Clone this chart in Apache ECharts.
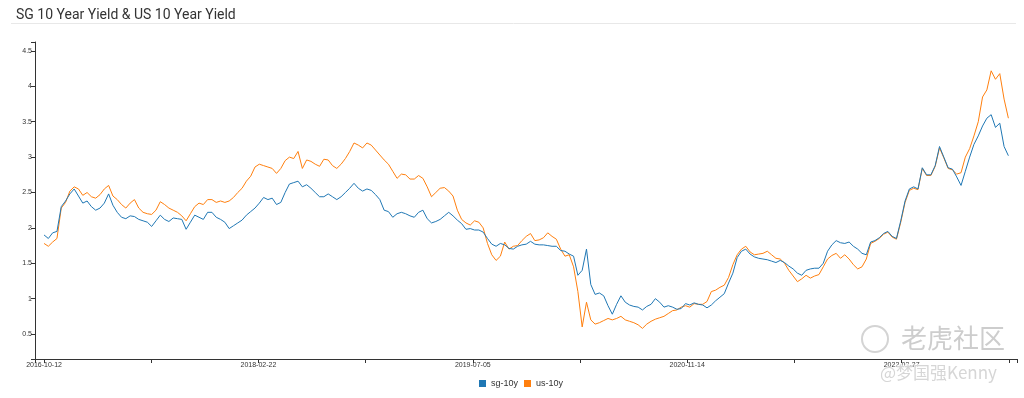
<!DOCTYPE html>
<html>
<head>
<meta charset="utf-8">
<title>SG 10 Year Yield &amp; US 10 Year Yield</title>
<script src="https://cdn.jsdelivr.net/npm/echarts@6/dist/echarts.min.js"></script>
<style>
  html, body { margin: 0; padding: 0; background: #fff; }
  #chart { width: 1024px; height: 398px; }
</style>
</head>
<body>
<div id="chart"></div>
<script>
// one value every STEP_DAYS days, starting at START_DATE
const START_DATE = '2016-10-12'
const STEP_DAYS = 10

const SG_10Y = [
  1.90, 1.85, 1.93, 1.95, 2.30, 2.38, 2.48, 2.55, 2.45, 2.35,
  2.38, 2.30, 2.25, 2.28, 2.35, 2.48, 2.32, 2.22, 2.15, 2.13,
  2.17, 2.16, 2.12, 2.10, 2.08, 2.02, 2.10, 2.18, 2.12, 2.09,
  2.14, 2.13, 2.12, 1.98, 2.08, 2.18, 2.15,
  2.12, 2.22, 2.22, 2.15, 2.12, 2.08, 1.99, 2.03, 2.07, 2.11,
  2.18, 2.23, 2.28, 2.35, 2.43, 2.40, 2.42, 2.33, 2.36, 2.50,
  2.62, 2.64, 2.66, 2.58, 2.61, 2.56, 2.50, 2.44, 2.44, 2.48,
  2.44, 2.40, 2.44, 2.50, 2.56, 2.63, 2.56, 2.52,
  2.55, 2.53, 2.47, 2.40, 2.25, 2.23, 2.15, 2.20, 2.22, 2.20,
  2.17, 2.15, 2.22, 2.25, 2.13, 2.07, 2.09, 2.12, 2.17, 2.22,
  2.17, 2.11, 2.06, 1.98, 1.99, 1.97, 1.97, 1.94, 1.85, 1.77,
  1.74, 1.78, 1.76, 1.71, 1.70, 1.74, 1.76,
  1.77, 1.81, 1.77, 1.76, 1.76, 1.75, 1.74, 1.74, 1.68, 1.67,
  1.63, 1.60, 1.33, 1.40, 1.70, 1.20, 1.06, 1.08, 1.04, 0.90,
  0.78, 0.92, 1.04, 0.95, 0.91, 0.89, 0.88, 0.84, 0.89, 0.92,
  1.00, 0.95, 0.88, 0.90, 0.88, 0.85, 0.86,
  0.93, 0.91, 0.94, 0.92, 0.91, 0.87, 0.91, 0.97, 1.02, 1.07,
  1.22, 1.36, 1.58, 1.67, 1.70, 1.63, 1.59, 1.57, 1.56, 1.55,
  1.53, 1.51, 1.54, 1.51, 1.46, 1.42, 1.36, 1.33, 1.40, 1.42,
  1.43, 1.43, 1.50, 1.67, 1.76, 1.82, 1.79, 1.78,
  1.80, 1.74, 1.70, 1.64, 1.62, 1.80, 1.82, 1.86, 1.92, 1.95,
  1.88, 1.85, 2.10, 2.38, 2.55, 2.58, 2.55, 2.85, 2.75, 2.75,
  2.88, 3.15, 3.00, 2.85, 2.83, 2.72, 2.60, 2.80, 3.00, 3.18,
  3.30, 3.44, 3.55, 3.60, 3.42, 3.48, 3.15, 3.02
]

const US_10Y = [
  1.78, 1.74, 1.80, 1.85, 2.28, 2.36, 2.52, 2.58, 2.55, 2.46,
  2.50, 2.44, 2.42, 2.47, 2.55, 2.60, 2.45, 2.40, 2.33, 2.28,
  2.35, 2.40, 2.28, 2.22, 2.20, 2.19, 2.25, 2.37, 2.33, 2.28,
  2.25, 2.22, 2.17, 2.10, 2.20, 2.30, 2.35,
  2.33, 2.40, 2.40, 2.36, 2.38, 2.36, 2.38, 2.43, 2.50, 2.56,
  2.66, 2.73, 2.86, 2.90, 2.88, 2.86, 2.84, 2.77, 2.84, 2.95,
  3.00, 2.98, 3.08, 2.84, 2.96, 2.94, 2.90, 2.87, 2.97, 2.96,
  2.88, 2.84, 2.90, 2.98, 3.08, 3.20, 3.17, 3.13,
  3.20, 3.17, 3.10, 3.03, 2.96, 2.90, 2.80, 2.70, 2.76, 2.75,
  2.69, 2.69, 2.74, 2.70, 2.58, 2.44, 2.50, 2.56, 2.57, 2.52,
  2.45, 2.25, 2.12, 2.07, 2.04, 2.10, 2.08, 2.00, 1.78, 1.62,
  1.54, 1.60, 1.80, 1.70, 1.74, 1.75, 1.82,
  1.88, 1.92, 1.82, 1.83, 1.86, 1.93, 1.88, 1.84, 1.70, 1.60,
  1.62, 1.45, 1.10, 0.60, 0.95, 0.70, 0.64, 0.66, 0.69, 0.72,
  0.70, 0.72, 0.75, 0.70, 0.68, 0.66, 0.63, 0.58, 0.64, 0.68,
  0.71, 0.73, 0.75, 0.79, 0.83, 0.84, 0.88,
  0.90, 0.88, 0.93, 0.92, 0.92, 0.96, 1.10, 1.12, 1.16, 1.19,
  1.30, 1.48, 1.62, 1.70, 1.74, 1.66, 1.62, 1.63, 1.64, 1.67,
  1.62, 1.57, 1.56, 1.50, 1.40, 1.32, 1.24, 1.28, 1.33, 1.29,
  1.32, 1.34, 1.45, 1.56, 1.61, 1.64, 1.57, 1.62,
  1.56, 1.48, 1.42, 1.45, 1.56, 1.78, 1.81, 1.85, 1.91, 1.94,
  1.87, 1.84, 2.08, 2.36, 2.53, 2.56, 2.54, 2.84, 2.74, 2.74,
  2.87, 3.13, 2.99, 2.84, 2.82, 2.76, 2.78, 3.00, 3.12, 3.30,
  3.50, 3.85, 3.95, 4.22, 4.10, 4.18, 3.82, 3.55
]

const X_RANGE = ['2016-09-21', '2022-12-20']
const X_TICKS = ['2016-10-12', '2017-06-18', '2018-02-22', '2018-10-29', '2019-07-05',
                 '2020-03-10', '2020-11-14', '2021-07-21', '2022-03-27', '2022-12-01']
const X_LABELS = ['2016-10-12', '2018-02-22', '2019-07-05', '2020-11-14', '2022-03-27']

const Y_RANGE = [0.147, 4.627]
const Y_TICKS = [0.5, 1, 1.5, 2, 2.5, 3, 3.5, 4, 4.5]

const DAY = 86400000
const toTime = s => {
  const [y, m, d] = s.split('-').map(Number)
  return Date.UTC(y, m - 1, d)
}
const fmtDate = t => {
  const d = new Date(t)
  const p = n => String(n).padStart(2, '0')
  return d.getUTCFullYear() + '-' + p(d.getUTCMonth() + 1) + '-' + p(d.getUTCDate())
}
const toSeries = values => values.map((v, i) => [toTime(START_DATE) + i * STEP_DAYS * DAY, v])

const chart = echarts.init(document.getElementById('chart'))

const axisColor = '#333'
const labelFont = { fontSize: 7, color: '#333', fontFamily: 'Arial, "Liberation Sans", sans-serif' }

chart.setOption({
  animation: false,
  title: {
    text: 'SG 10 Year Yield & US 10 Year Yield',
    left: 11,
    top: 3,
    textStyle: { fontSize: 14, fontWeight: 'normal', color: '#333', fontFamily: 'Roboto, sans-serif' }
  },
  legend: {
    data: ['sg-10y', 'us-10y'],
    left: 479,
    top: 379,
    padding: 0,
    icon: 'rect',
    itemWidth: 7,
    itemHeight: 7,
    itemGap: 6,
    textStyle: { fontSize: 9, color: '#333', fontFamily: 'Arial, "Liberation Sans", sans-serif' }
  },
  grid: { left: 35, right: 7, top: 42, bottom: 39 },
  // dates as plain timestamps on a value axis so ticks can sit every 249 days
  xAxis: {
    type: 'value',
    min: toTime(X_RANGE[0]),
    max: toTime(X_RANGE[1]),
    axisLine: { lineStyle: { color: axisColor, width: 1 } },
    axisTick: {
      length: 4,
      lineStyle: { color: axisColor },
      customValues: [X_RANGE[0], ...X_TICKS, X_RANGE[1]].map(toTime)
    },
    axisLabel: {
      ...labelFont,
      margin: 3,
      customValues: X_LABELS.map(toTime),
      formatter: v => fmtDate(v)
    },
    splitLine: { show: false }
  },
  yAxis: {
    type: 'value',
    min: Y_RANGE[0],
    max: Y_RANGE[1],
    axisLine: { show: true, lineStyle: { color: axisColor, width: 1 } },
    axisTick: {
      show: true,
      length: 4,
      lineStyle: { color: axisColor },
      customValues: [Y_RANGE[0], ...Y_TICKS, Y_RANGE[1]]
    },
    axisLabel: {
      ...labelFont,
      margin: 3,
      customValues: Y_TICKS,
      formatter: v => String(v)
    },
    splitLine: { show: false }
  },
  series: [
    {
      name: 'sg-10y',
      type: 'line',
      data: toSeries(SG_10Y),
      showSymbol: false,
      color: '#1f77b4',
      lineStyle: { width: 1 },
      z: 3
    },
    {
      name: 'us-10y',
      type: 'line',
      data: toSeries(US_10Y),
      showSymbol: false,
      color: '#ff7f0e',
      lineStyle: { width: 1 },
      z: 2
    }
  ],
  graphic: [
    // rule under the title
    { type: 'line', shape: { x1: 11, y1: 23.5, x2: 1016, y2: 23.5 }, style: { stroke: '#e8e8e8', lineWidth: 1 }, silent: true },
    // watermark
    { type: 'circle', shape: { cx: 875, cy: 339, r: 13 }, style: { fill: 'none', stroke: '#d4d4d4', lineWidth: 2 }, silent: true, z: 10 },
    { type: 'text', x: 901, y: 325, style: { text: '老虎社区', font: '26px "Noto Sans CJK SC"', fill: '#cdcdcd' }, silent: true, z: 10 },
    { type: 'text', x: 880, y: 364, style: { text: '@梦国强Kenny', font: '17px "Noto Sans CJK SC"', fill: '#d6d6d6', stroke: '#fff', lineWidth: 1 }, silent: true, z: 10 }
  ]
})
</script>
</body>
</html>
